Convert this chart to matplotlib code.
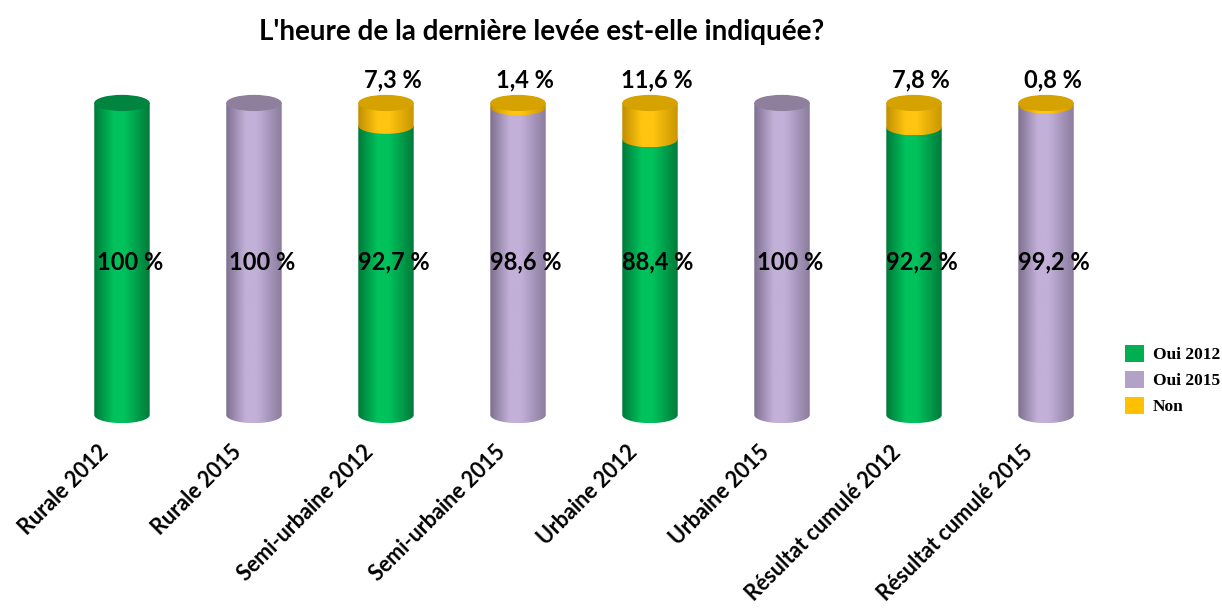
import numpy as np
import matplotlib.pyplot as plt
from matplotlib.patches import Ellipse, Polygon, Patch
from matplotlib.colors import LinearSegmentedColormap

# donnees
categories = ['Rurale 2012', 'Rurale 2015', 'Semi-urbaine 2012', 'Semi-urbaine 2015',
              'Urbaine 2012', 'Urbaine 2015', 'Résultat cumulé 2012', 'Résultat cumulé 2015']
annees = [2012, 2015, 2012, 2015, 2012, 2015, 2012, 2015]
oui = [100, 100, 92.7, 98.6, 88.4, 100, 92.2, 99.2]
non = [0, 0, 7.3, 1.4, 11.6, 0, 7.8, 0.8]

# couleurs : (bord sombre, clair, bord droit, dessus)
couleurs = {
    'g': ('#00793A', '#00C25C', '#007A3A', '#00843F'),
    'p': ('#7E7091', '#C3B0D8', '#8B7C9E', '#8E7F9C'),
    'y': ('#C08F00', '#FFC510', '#C89600', '#D6A200'),
}
legende_couleurs = {'Oui 2012': '#00B050', 'Oui 2015': '#B3A2C7', 'Non': '#FFC000'}

plt.rcParams['font.family'] = ['Lato', 'DejaVu Sans']

fig = plt.figure(figsize=(12.22, 6.10), dpi=100)
ax = fig.add_axes([0.0458, 0.2992, 0.8642, 0.5934])
ax.set_xlim(-0.5, 7.5)
ax.set_ylim(-4, 112)
ax.axis('off')

w = 0.42   # largeur du cylindre (unites x)
b = 2.6    # demi-hauteur de l'ellipse (unites y)
t = np.linspace(np.pi, 2 * np.pi, 40)


def segment(x, y0, y1, c):
    cmap = LinearSegmentedColormap.from_list('c', [(0, c[0]), (0.35, c[1]), (0.55, c[1]), (1, c[2])])
    xs = x + w / 2 * np.cos(t)
    ys = y0 + b * np.sin(t)
    pts = list(zip(xs, ys)) + [(x + w / 2, y1), (x - w / 2, y1)]
    poly = Polygon(pts, closed=True, transform=ax.transData)
    grad = np.linspace(0, 1, 200).reshape(1, -1)
    im = ax.imshow(grad, extent=[x - w / 2, x + w / 2, y0 - b, y1], cmap=cmap,
                   aspect='auto', interpolation='bicubic', zorder=2)
    im.set_clip_path(poly)


for i in range(len(categories)):
    cle = 'g' if annees[i] == 2012 else 'p'
    segment(i, 0, oui[i], couleurs[cle])
    haut = couleurs[cle][3]
    if non[i] > 0:
        segment(i, oui[i], oui[i] + non[i], couleurs['y'])
        haut = couleurs['y'][3]
    ax.add_patch(Ellipse((i, oui[i] + non[i]), w, 2 * b, facecolor=haut,
                         edgecolor='none', zorder=3))
    txt = f"{oui[i]:g}".replace('.', ',') + ' %'
    ax.text(i + 0.06, 49, txt, ha='center', va='center', fontsize=17,
            fontweight='bold', zorder=5)
    if non[i] > 0:
        txt = f"{non[i]:g}".replace('.', ',') + ' %'
        ax.text(i + 0.05, 107.5, txt, ha='center', va='center', fontsize=17,
                fontweight='bold', zorder=5)
    ax.text(i - 0.18, -8.5, categories[i], rotation=45, ha='right', va='top',
            rotation_mode='anchor', fontsize=15.5, fontweight='bold', clip_on=False)

fig.text(0.4435, 0.948, "L'heure de la dernière levée est-elle indiquée?",
         ha='center', va='center', fontsize=20, fontweight='bold')

handles = [Patch(facecolor=v, edgecolor='none', label=k) for k, v in legende_couleurs.items()]
fig.legend(handles=handles, loc='upper left', bbox_to_anchor=(0.908, 0.46),
           frameon=False, handlelength=1.1, handleheight=1.1, handletextpad=0.5,
           labelspacing=0.45, prop={'family': 'Liberation Serif', 'weight': 'bold', 'size': 12.5})

plt.savefig('out.png', dpi=100)
